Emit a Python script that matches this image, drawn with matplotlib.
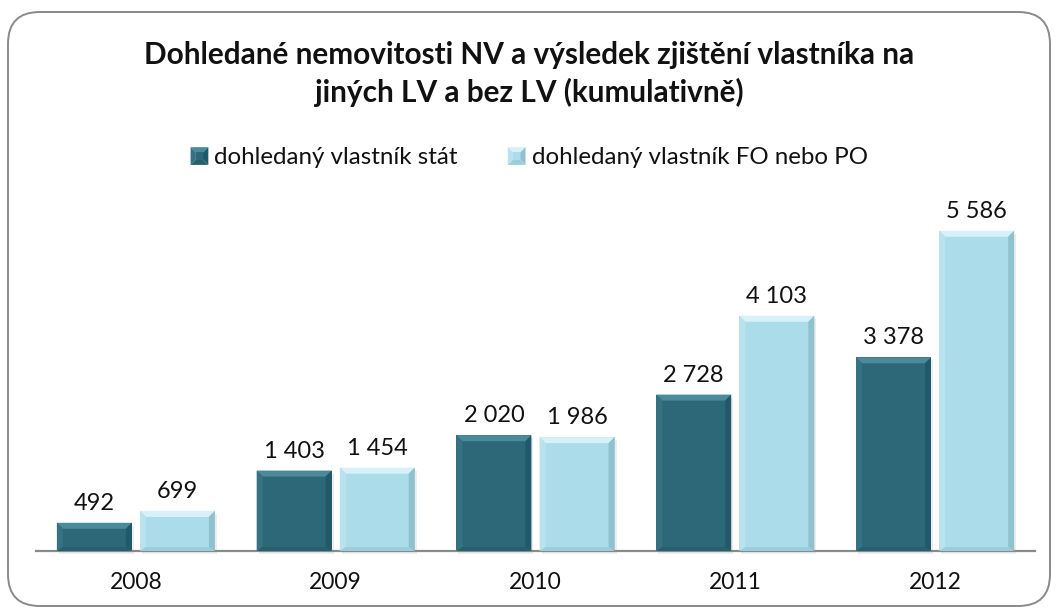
import matplotlib
matplotlib.use("Agg")
import matplotlib.pyplot as plt
from matplotlib.patches import Polygon, FancyBboxPatch, Rectangle
from matplotlib.legend_handler import HandlerBase
import numpy as np

plt.rcParams['font.family'] = ['Lato', 'DejaVu Sans']

years = ["2008", "2009", "2010", "2011", "2012"]
stat_values = [492, 1403, 2020, 2728, 3378]
fopo_values = [699, 1454, 1986, 4103, 5586]
series_names = ["dohledaný vlastník stát", "dohledaný vlastník FO nebo PO"]
title = "Dohledané nemovitosti NV a výsledek zjištění vlastníka na\njiných LV a bez LV (kumulativně)"

W, H = 1059, 609
fig = plt.figure(figsize=(W / 100, H / 100), dpi=100)

# rounded frame
frame = FancyBboxPatch((8 / W, 3 / H), 1042 / W, 594 / H,
                       boxstyle="round,pad=0,rounding_size=0.03",
                       transform=fig.transFigure, fill=False,
                       edgecolor="#8a8a8a", linewidth=1.4, mutation_aspect=W / H)
fig.patches.append(frame)

ax_left, ax_right = 36 / W, 1035 / W
ax_bottom, ax_top = (H - 551) / H, (H - 207) / H
ax = fig.add_axes([ax_left, ax_bottom, ax_right - ax_left, ax_top - ax_bottom])

x = np.arange(len(years))
width = 0.375
off = 0.208
ymax = 6000
ax.set_xlim(-0.5, len(years) - 0.5)
ax.set_ylim(0, ymax)

styles = [
    dict(face="#2C6878", top="#4A8A9A", left="#357282", right="#21596A", bottom="#26606F"),
    dict(face="#ABDCEA", top="#D8F1F8", left="#B8E3EE", right="#8FC1CF", bottom="#9CCDDB"),
]

ax_w_px = (ax_right - ax_left) * W
ax_h_px = (ax_top - ax_bottom) * H
px_x = len(years) / ax_w_px
px_y = ymax / ax_h_px
bev = 6


def bevel(rect, st):
    x0, y0 = rect.get_x(), rect.get_y()
    w, h = rect.get_width(), rect.get_height()
    x1, y1 = x0 + w, y0 + h
    bx = bev * px_x
    by = min(bev * px_y, h / 2)
    byb = min(4 * px_y, h / 2)
    # shadow
    ax.add_patch(Rectangle((x0 + 2 * px_x, y0 - 3 * px_y), w, h, facecolor="#000000",
                           alpha=0.07, zorder=1, linewidth=0, clip_on=False))
    polys = [
        ([(x0, y1), (x1, y1), (x1 - bx, y1 - by), (x0 + bx, y1 - by)], st["top"]),
        ([(x0, y0), (x0, y1), (x0 + bx, y1 - by), (x0 + bx, y0 + byb)], st["left"]),
        ([(x1, y0), (x1, y1), (x1 - bx, y1 - by), (x1 - bx, y0 + byb)], st["right"]),
        ([(x0, y0), (x1, y0), (x1 - bx, y0 + byb), (x0 + bx, y0 + byb)], st["bottom"]),
    ]
    for pts, c in polys:
        ax.add_patch(Polygon(pts, closed=True, facecolor=c, edgecolor="none", zorder=3))


for vals, sign, st in [(stat_values, -1, styles[0]), (fopo_values, 1, styles[1])]:
    bars = ax.bar(x + sign * off, vals, width, color=st["face"], zorder=2, linewidth=0)
    for rect, v in zip(bars, vals):
        bevel(rect, st)
        ax.annotate(f"{v:,}".replace(",", " "),
                    (rect.get_x() + rect.get_width() / 2, rect.get_height()),
                    xytext=(0, 9), textcoords="offset pixels",
                    ha="center", va="bottom", fontsize=17, color="#111111")

for s in ["top", "left", "right"]:
    ax.spines[s].set_visible(False)
ax.spines["bottom"].set_color("#8a8a8a")
ax.spines["bottom"].set_linewidth(1.6)
ax.set_yticks([])
ax.set_xticks(x)
ax.set_xticklabels(years, fontsize=16.5, color="#111111")
ax.tick_params(axis="x", length=0, pad=15)
ax.patch.set_alpha(0)

fig.text(0.5, (H - 74) / H, title, ha="center", va="center", fontsize=21.4,
         fontweight="bold", linespacing=1.38, color="#111111")


class BevelHandler(HandlerBase):
    def __init__(self, st):
        super().__init__()
        self.st = st

    def create_artists(self, legend, orig_handle, xdescent, ydescent, width, height, fontsize, trans):
        s = height * 1.05
        cx = width - s / 2
        cy = height / 2 - ydescent
        x0, x1 = cx - s / 2, cx + s / 2
        y0, y1 = cy - s / 2, cy + s / 2
        b = s * 0.3
        st = self.st
        arts = [
            Polygon([(x0, y1), (x1, y1), (x1 - b, y1 - b), (x0 + b, y1 - b)], facecolor=st["top"]),
            Polygon([(x0, y0), (x0, y1), (x0 + b, y1 - b), (x0 + b, y0 + b)], facecolor=st["left"]),
            Polygon([(x1, y0), (x1, y1), (x1 - b, y1 - b), (x1 - b, y0 + b)], facecolor=st["right"]),
            Polygon([(x0, y0), (x1, y0), (x1 - b, y0 + b), (x0 + b, y0 + b)], facecolor=st["bottom"]),
            Rectangle((x0 + b, y0 + b), s - 2 * b, s - 2 * b, facecolor=st["face"]),
        ]
        for a in arts:
            a.set_edgecolor("none")
            a.set_transform(trans)
        return arts


h1, h2 = Rectangle((0, 0), 1, 1), Rectangle((0, 0), 1, 1)
fig.legend([h1, h2], series_names, loc="center", bbox_to_anchor=(0.5, (H - 158) / H),
           ncol=2, frameon=False, fontsize=17.4, handlelength=0.7, handletextpad=0.25,
           columnspacing=2.1, handler_map={h1: BevelHandler(styles[0]), h2: BevelHandler(styles[1])},
           labelcolor="#111111")

fig.savefig("out.png", dpi=100)
